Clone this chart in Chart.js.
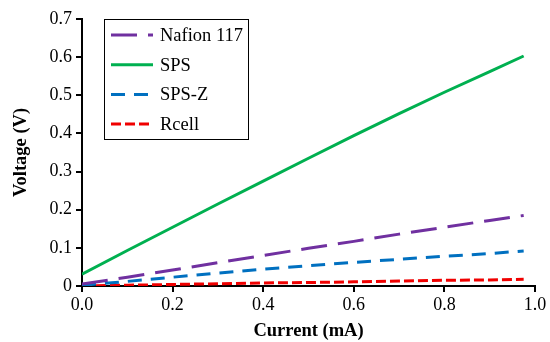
<!DOCTYPE html>
<html><head><meta charset="utf-8">
<script src="https://cdn.jsdelivr.net/npm/chart.js@4/dist/chart.umd.min.js"></script>
<style>html,body{margin:0;padding:0;background:#fff}</style>
</head><body>
<canvas id="c" width="550" height="342"></canvas>
<script>
const currents   = [0, 0.1, 0.2, 0.3, 0.4, 0.5, 0.6, 0.7, 0.8, 0.9, 0.975];
const nafion117  = [0.005, 0.023, 0.042, 0.061, 0.080, 0.099, 0.117, 0.136, 0.154, 0.172, 0.185];
const sps        = [0.031, 0.093, 0.154, 0.215, 0.275, 0.335, 0.394, 0.452, 0.508, 0.562, 0.603];
const spsZ       = [0.002, 0.012, 0.023, 0.034, 0.044, 0.053, 0.062, 0.070, 0.078, 0.085, 0.092];
const rcell      = [0.000, 0.002, 0.004, 0.006, 0.008, 0.009, 0.011, 0.013, 0.015, 0.016, 0.0175];
const seriesNames = ['Nafion 117', 'SPS', 'SPS-Z', 'Rcell'];
const xTickValues = [0, 0.2, 0.4, 0.6, 0.8, 1.0];
const yTickValues = [0, 0.1, 0.2, 0.3, 0.4, 0.5, 0.6, 0.7];

const pts = arr => arr.map((v, i) => ({x: currents[i], y: v}));
const FONT = '"Liberation Serif", "Times New Roman", serif';

const boxLegend = {
  id: 'boxLegend',
  afterDraw(chart) {
    const ctx = chart.ctx;
    ctx.save();
    ctx.fillStyle = '#fff';
    ctx.fillRect(104.5, 19.5, 144, 120);
    ctx.strokeStyle = '#000';
    ctx.lineWidth = 1;
    ctx.strokeRect(104.5, 19.5, 144, 120);
    chart.data.datasets.forEach((ds, i) => {
      const y = 35 + i * 29.7;
      ctx.strokeStyle = ds.borderColor;
      ctx.lineWidth = ds.borderWidth;
      ctx.lineCap = 'butt';
      ctx.setLineDash(ds.borderDash || []);
      ctx.beginPath(); ctx.moveTo(111, y); ctx.lineTo(153, y); ctx.stroke();
      ctx.setLineDash([]);
      ctx.fillStyle = '#000';
      ctx.font = '18.5px ' + FONT;
      ctx.textBaseline = 'middle';
      ctx.textAlign = 'left';
      ctx.fillText(ds.label, 160, y + 1);
    });
    ctx.restore();
  }
};

const mk = (label, data, color, dash) => ({
  label, data: pts(data), borderColor: color, backgroundColor: color,
  borderWidth: 3, borderDash: dash, borderCapStyle: 'butt',
  pointRadius: 0, tension: 0, fill: false
});

new Chart(document.getElementById('c'), {
  type: 'line',
  data: {
    datasets: [
      mk(seriesNames[0], nafion117, '#7030A0', [26, 11]),
      mk(seriesNames[1], sps, '#00B050', []),
      mk(seriesNames[2], spsZ, '#0070C0', [14, 9]),
      mk(seriesNames[3], rcell, '#F00000', [10, 4])
    ]
  },
  plugins: [boxLegend],
  options: {
    responsive: false,
    animation: false,
    layout: {padding: {top: 19, right: 15, left: 0, bottom: 0}},
    plugins: {legend: {display: false}, tooltip: {enabled: false}},
    scales: {
      x: {
        type: 'linear', min: 0, max: 1,
        afterBuildTicks: s => { s.ticks = xTickValues.map(v => ({value: v})); },
        afterFit: s => { s.height = 56; },
        ticks: {callback: v => Number(v).toFixed(1), color: '#000', font: {family: FONT, size: 18}, padding: 2, maxRotation: 0},
        grid: {drawOnChartArea: false, drawTicks: true, tickLength: 6, color: '#000', lineWidth: 2},
        border: {display: true, color: '#000', width: 2},
        title: {display: true, text: 'Current (mA)', color: '#000', font: {family: FONT, size: 18.5, weight: 'bold', lineHeight: 1.2}, padding: {top: 0, bottom: 0}}
      },
      y: {
        type: 'linear', min: 0, max: 0.7,
        afterBuildTicks: s => { s.ticks = yTickValues.map(v => ({value: v})); },
        afterFit: s => { s.width = 82; },
        ticks: {callback: v => (Math.abs(v) < 1e-9 ? '0' : Number(v).toFixed(1)), color: '#000', font: {family: FONT, size: 18}, padding: 4},
        grid: {drawOnChartArea: false, drawTicks: true, tickLength: 6, color: '#000', lineWidth: 2},
        border: {display: true, color: '#000', width: 2},
        title: {display: true, text: 'Voltage (V)', color: '#000', font: {family: FONT, size: 18.5, weight: 'bold', lineHeight: 1.2}, padding: {top: 10, bottom: 0}}
      }
    }
  }
});
</script>
</body></html>
